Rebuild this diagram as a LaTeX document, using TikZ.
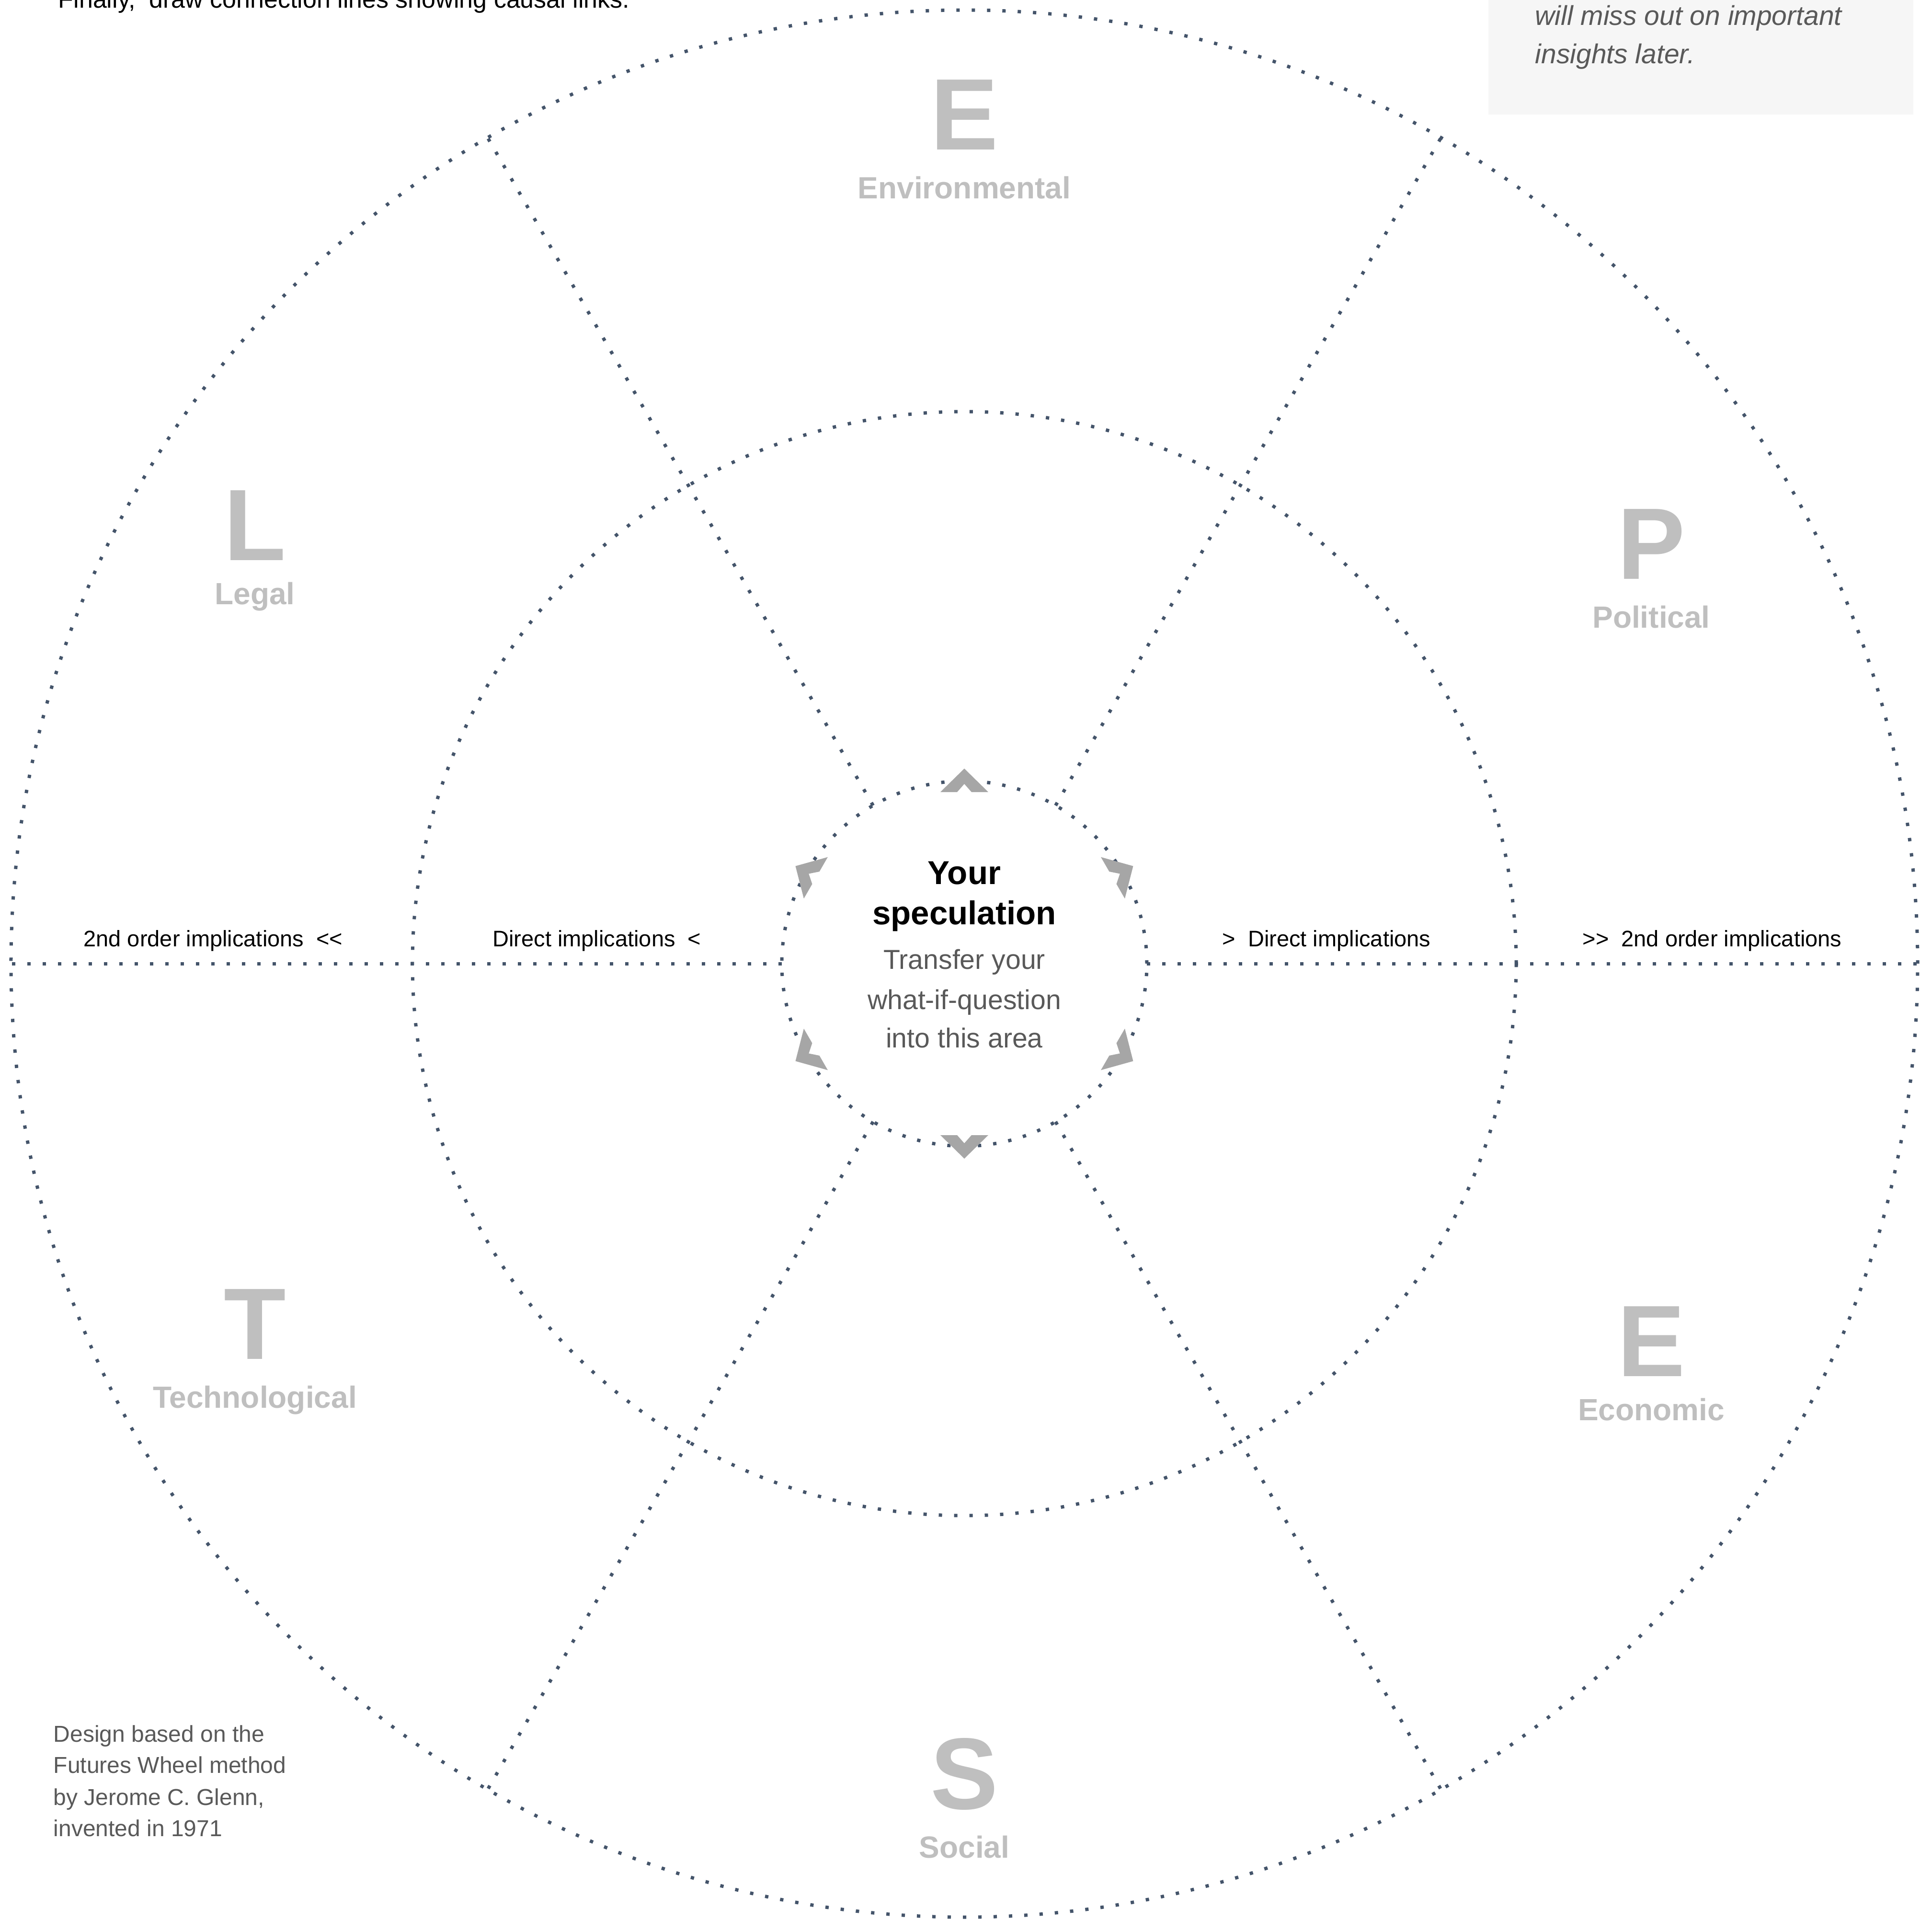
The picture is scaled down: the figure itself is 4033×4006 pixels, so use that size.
\documentclass[tikz,border=0pt]{standalone}
\usepackage{fontspec}
\setmainfont{Liberation Sans}
\definecolor{dotcol}{HTML}{44546A}
\definecolor{lettercol}{HTML}{BFBFBF}
\definecolor{arrowcol}{HTML}{A6A6A6}
\definecolor{textgray}{HTML}{595959}
\definecolor{boxgray}{HTML}{F6F6F6}
\begin{document}
\begin{tikzpicture}[x=0.25pt,y=0.25pt,
  dotline/.style={draw=dotcol, line width=1.75pt, dash pattern=on 1.75pt off 6.25pt},
  ring/.style={circle, dotline, inner sep=0pt, outer sep=0pt},
  bigletter/.style={anchor=base, inner sep=0pt, text=lettercol, font=\fontsize{53pt}{53pt}\selectfont\bfseries},
  sectorlabel/.style={anchor=base, inner sep=0pt, text=lettercol, font=\fontsize{16pt}{16pt}\selectfont\bfseries},
  impl/.style={anchor=base, inner sep=0pt, text=black, font=\fontsize{11.75pt}{11.75pt}\selectfont},
  chevron/.style={fill=arrowcol, draw=none},
  note/.style={anchor=base west, inner sep=0pt, text=textgray, font=\fontsize{12pt}{12pt}\selectfont}]
\useasboundingbox (-2013,-1995) rectangle (2020,2011);
\clip (-2013,-1995) rectangle (2020,2011);
% top-right note box
\fill[boxgray] (1094,1772) rectangle (1981,2100);
% circles
\node[ring, minimum size=995pt] (outer) at (0,0) {};
\node[ring, minimum size=576pt] (middle) at (0,0) {};
\node[ring, minimum size=190.5pt] (inner) at (0,0) {};
% radial dividers
\foreach \a in {0,60,120,180,240,300}
  \draw[dotline] (inner.\a) -- (outer.\a);
% chevrons
\foreach \a in {90,30,-30,-90,150,210}
  \fill[chevron, rotate=\a] (407,0) -- (358,50) -- (358,15) -- (375,0) -- (358,-15) -- (358,-50) -- cycle;
% sector letters
\node[bigletter] (eL) at (0,1698) {E};
\node[sectorlabel] (eT) at (0,1596) {Environmental};
\node[bigletter] (pL) at (1434,803) {P};
\node[sectorlabel] (pT) at (1434,701) {Political};
\node[bigletter] (ecL) at (1434,-861) {E};
\node[sectorlabel] (ecT) at (1434,-953) {Economic};
\node[bigletter] (sL) at (0,-1764) {S};
\node[sectorlabel] (sT) at (0,-1866) {Social};
\node[bigletter] (tL) at (-1481,-825) {T};
\node[sectorlabel] (tT) at (-1481,-927) {Technological};
\node[bigletter] (lL) at (-1481,842) {L};
\node[sectorlabel] (lT) at (-1481,750) {Legal};
% implication labels
\node[impl] (i1) at (-1568,36) {2nd order implications~~<\kern0pt<};
\node[impl] (i2) at (-767,36) {Direct implications~~<};
\node[impl] (i3) at (756,36) {>~~Direct implications};
\node[impl] (i4) at (1561,36) {>\kern0pt>~~2nd order implications};
% centre
\node[anchor=base, inner sep=0pt, font=\fontsize{17.25pt}{17.25pt}\selectfont\bfseries] (c1) at (0,166) {Your};
\node[anchor=base, inner sep=0pt, font=\fontsize{17.25pt}{17.25pt}\selectfont\bfseries] (c2) at (0,82) {speculation};
\node[anchor=base, inner sep=0pt, text=textgray, font=\fontsize{14.3pt}{14.3pt}\selectfont] (c3) at (0,-11) {Transfer your};
\node[anchor=base, inner sep=0pt, text=textgray, font=\fontsize{14.3pt}{14.3pt}\selectfont] (c4) at (0,-95) {what-if-question};
\node[anchor=base, inner sep=0pt, text=textgray, font=\fontsize{14.3pt}{14.3pt}\selectfont] (c5) at (0,-175) {into this area};
% top-left instruction (cut off by page edge)
\node[anchor=base west, inner sep=0pt, text=black, font=\fontsize{13pt}{13pt}\selectfont] (top) at (-1892,1994) {Finally,~~draw connection lines showing causal links.};
% top-right note
\node[anchor=base west, inner sep=0pt, text=textgray, font=\fontsize{14.25pt}{14.25pt}\selectfont\itshape] (n1) at (1191,1958) {will miss out on important};
\node[anchor=base west, inner sep=0pt, text=textgray, font=\fontsize{14.25pt}{14.25pt}\selectfont\itshape] (n2) at (1191,1878) {insights later.};
% bottom-left credit
\node[note] (b1) at (-1902,-1624) {Design based on the};
\node[note] (b2) at (-1902,-1689) {Futures Wheel method};
\node[note] (b3) at (-1902,-1756) {by Jerome C. Glenn,};
\node[note] (b4) at (-1902,-1821) {invented in 1971};
\end{tikzpicture}
\end{document}
